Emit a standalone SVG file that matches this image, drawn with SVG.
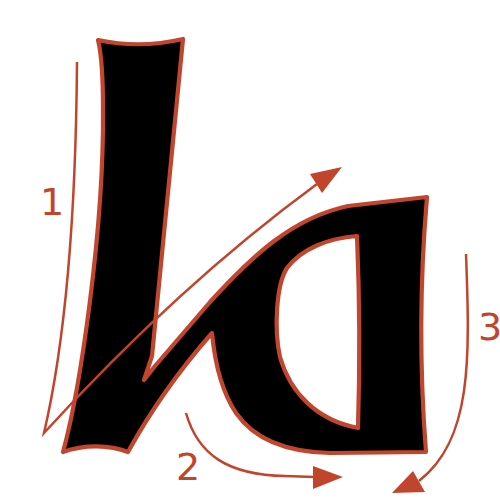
<svg xmlns="http://www.w3.org/2000/svg" width="500" height="500" viewBox="0 0 500 500">
<style>
.glyph{fill:#000;stroke:#c2462e;stroke-width:4.2;stroke-linejoin:round;fill-rule:evenodd}
.arr{fill:none;stroke:#c0452c;stroke-width:2.5}
.head{fill:#c0452c}
.lbl{font-family:"DejaVu Sans",sans-serif;font-size:38px;fill:#c0452c;text-anchor:middle}
</style>
<rect width="500" height="500" fill="#fff"/>
<g id="letter">
<path class="glyph" d="M98,40 Q140,49 183,39 L152,356 L144,380 L155,366 L210,302 C252,256 292,218 348,206 L427,197 Q416,325 426,452 L330,453 C282,452 252,436 236,413 C222,392 215,365 212,333 Q162,390 128,452 C110,445 85,444 63,452 C80,390 104,230 103,110 Q103,60 98,40 Z M357,236 C330,238 302,248 287,268 C276,285 274,330 280,357 C290,392 316,420 358,428 Q361,330 357,236 Z"/>
</g>
<g id="connectors">
<path class="arr" d="M77,62 C76,200 68,330 44,433 Q178,286 317,184"/>
<polygon class="head" points="342,167 310,174 322,193"/>
<path class="arr" d="M186,413 C198,455 228,475 285,476 L315,477"/>
<polygon class="head" points="343,477 313,466 313,489"/>
<path class="arr" d="M466,254 C470,360 472,440 419,481"/>
<polygon class="head" points="392,493 413,471 425,492"/>
</g>
<g id="labels">
<text class="lbl" x="52" y="215">1</text>
<text class="lbl" x="188" y="480">2</text>
<text class="lbl" x="490" y="340">3</text>
</g>
</svg>
